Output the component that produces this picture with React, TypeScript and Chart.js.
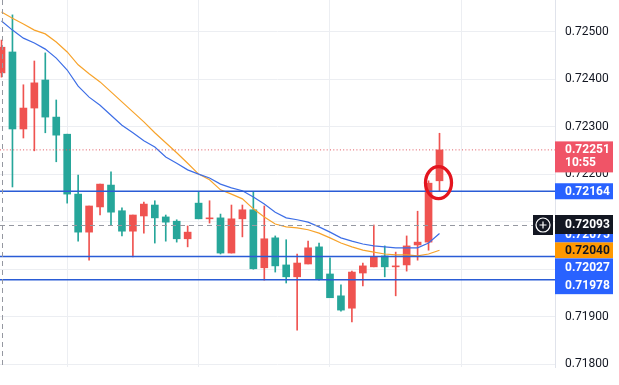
import React, { useEffect, useRef } from "react";
import { Chart, registerables } from "chart.js";

Chart.register(...registerables);

// ---- data ----
const opens = [0.72413, 0.72457, 0.72295, 0.72339, 0.72398, 0.7232, 0.72284, 0.72158, 0.72078, 0.72131, 0.72177, 0.72123, 0.7208, 0.72112, 0.72135, 0.7211, 0.72101, 0.72064, 0.72139, 0.72106, 0.72108, 0.72034, 0.72106, 0.72125, 0.72003, 0.72066, 0.72009, 0.71984, 0.72011, 0.72047, 0.7199, 0.71944, 0.71918, 0.71992, 0.72005, 0.72028, 0.72005, 0.72009, 0.72051, 0.72057, 0.72186];
const highs = [0.72482, 0.72535, 0.72388, 0.72438, 0.72455, 0.72356, 0.72284, 0.72198, 0.72133, 0.72179, 0.72205, 0.72129, 0.72114, 0.72141, 0.72144, 0.72114, 0.72104, 0.72091, 0.72162, 0.72144, 0.72116, 0.72135, 0.72135, 0.72162, 0.72133, 0.7207, 0.72062, 0.72032, 0.72059, 0.72055, 0.72024, 0.71967, 0.71996, 0.72013, 0.72093, 0.72049, 0.72036, 0.7207, 0.72122, 0.72186, 0.72286];
const lows = [0.72404, 0.72173, 0.72276, 0.72249, 0.72287, 0.72226, 0.72139, 0.72059, 0.72019, 0.72114, 0.72093, 0.7207, 0.72026, 0.72076, 0.72055, 0.72059, 0.72057, 0.72047, 0.72106, 0.72097, 0.72032, 0.72034, 0.72068, 0.72, 0.71977, 0.71994, 0.71971, 0.71872, 0.72011, 0.71977, 0.7194, 0.71912, 0.71889, 0.71965, 0.72005, 0.71984, 0.71944, 0.71996, 0.72019, 0.7204, 0.72165];
const closes = [0.72467, 0.72295, 0.72339, 0.72392, 0.7232, 0.72282, 0.72158, 0.72078, 0.72133, 0.72179, 0.7212, 0.7208, 0.72114, 0.72137, 0.72108, 0.72099, 0.72064, 0.72078, 0.72106, 0.72108, 0.72034, 0.72106, 0.72125, 0.72001, 0.72064, 0.72007, 0.71984, 0.72013, 0.72045, 0.71979, 0.7194, 0.71914, 0.71994, 0.72007, 0.72026, 0.72005, 0.72007, 0.72049, 0.72057, 0.72181, 0.72251];
const blueMA = [0.72522, 0.72503, 0.72486, 0.72476, 0.72463, 0.72444, 0.72419, 0.72385, 0.72362, 0.72345, 0.72324, 0.72303, 0.72287, 0.7227, 0.72257, 0.72236, 0.72223, 0.72209, 0.722, 0.72192, 0.72179, 0.72171, 0.72165, 0.72152, 0.72137, 0.7212, 0.72108, 0.72104, 0.72099, 0.72089, 0.72078, 0.72066, 0.72059, 0.72053, 0.72049, 0.72047, 0.72045, 0.72045, 0.72045, 0.72055, 0.72075];
const orangeMA = [0.72541, 0.72528, 0.72516, 0.72503, 0.72495, 0.72478, 0.72457, 0.7243, 0.72411, 0.72394, 0.72373, 0.72352, 0.72331, 0.7231, 0.72287, 0.72266, 0.72245, 0.72223, 0.722, 0.72188, 0.72167, 0.72158, 0.72148, 0.72127, 0.7211, 0.72095, 0.72089, 0.72087, 0.72083, 0.72076, 0.72066, 0.72055, 0.72047, 0.7204, 0.72036, 0.72032, 0.7203, 0.7203, 0.72028, 0.72032, 0.7204];
const levels = [0.72164, 0.72027, 0.71978];
const lastPrice = 0.72251;
const lastTime = "10:55";
const crosshairPrice = 0.72093;
const crosshairIndex = 0;
const markIndex = 40;
const markPrice = 0.72182;
const yTicks = [0.718, 0.719, 0.72, 0.721, 0.722, 0.723, 0.724, 0.725];
const xGridTicks = [6, 18, 30, 42];

const X_MIN = -0.137;
const X_MAX = 50.548;
const Y_MIN = 0.717943;
const Y_MAX = 0.725663;

const GREEN = "#26a69a";
const RED = "#ef5350";
const BLUE_LINE = "#2a5cd6";
const BLUE_BOX = "#2962ff";
const FONT = "Roboto";

type Lbl = { value: number; bg: string; fg: string; text: string; sub?: string; offset: number; up: number; down: number };
const axisLabels: Lbl[] = [
  { value: blueMA[blueMA.length - 1], bg: BLUE_BOX, fg: "#ffffff", text: blueMA[blueMA.length - 1].toFixed(5), offset: 1, up: 8, down: 8 },
  { value: lastPrice, bg: "#f05467", fg: "#ffffff", text: lastPrice.toFixed(5), sub: lastTime, offset: 0, up: 8.5, down: 22.5 },
  { value: levels[0], bg: BLUE_BOX, fg: "#ffffff", text: levels[0].toFixed(5), offset: 0, up: 8, down: 8 },
  { value: crosshairPrice, bg: "#131722", fg: "#ffffff", text: crosshairPrice.toFixed(5), offset: -1, up: 9, down: 10 },
  { value: orangeMA[orangeMA.length - 1], bg: "#ff9800", fg: "#131722", text: orangeMA[orangeMA.length - 1].toFixed(5), offset: 0, up: 7.8, down: 8 },
  { value: levels[1], bg: BLUE_BOX, fg: "#ffffff", text: levels[1].toFixed(5), offset: 11, up: 9, down: 9.2 },
  { value: levels[2], bg: BLUE_BOX, fg: "#ffffff", text: levels[2].toFixed(5), offset: 5.5, up: 9.2, down: 9 },
];

const overlay = {
  id: "overlay",
  afterDatasetsDraw(chart: any) {
    const { ctx, chartArea, scales } = chart;
    const xs = scales.x;
    const ys = scales.y;
    ctx.save();
    ctx.beginPath();
    ctx.rect(chartArea.left, chartArea.top, chartArea.right - chartArea.left, chartArea.bottom - chartArea.top);
    ctx.clip();
    // crosshair
    ctx.strokeStyle = "#9598a1";
    ctx.lineWidth = 1;
    ctx.setLineDash([5, 4]);
    const cx = Math.round(xs.getPixelForValue(crosshairIndex)) + 0.5;
    ctx.beginPath();
    ctx.moveTo(cx, chartArea.top);
    ctx.lineTo(cx, chartArea.bottom);
    ctx.stroke();
    const cy = Math.round(ys.getPixelForValue(crosshairPrice)) + 0.5;
    ctx.beginPath();
    ctx.moveTo(chartArea.left, cy);
    ctx.lineTo(chartArea.right - 22, cy);
    ctx.stroke();
    ctx.setLineDash([]);
    // red ellipse mark
    const ex = xs.getPixelForValue(markIndex) - 1;
    const ey = ys.getPixelForValue(markPrice);
    ctx.strokeStyle = "#e3151f";
    ctx.lineWidth = 3.3;
    ctx.beginPath();
    ctx.ellipse(ex, ey, 13, 16, 0, 0, Math.PI * 2);
    ctx.stroke();
    ctx.restore();
  },
  afterDraw(chart: any) {
    const { ctx, chartArea, scales } = chart;
    const ys = scales.y;
    const left = chartArea.right;
    const w = 58;
    ctx.save();
    ctx.textBaseline = "middle";
    ctx.textAlign = "left";
    for (const l of axisLabels) {
      const y = ys.getPixelForValue(l.value) + l.offset;
      ctx.fillStyle = l.bg;
      ctx.fillRect(left, y - l.up, w, l.up + l.down);
      ctx.fillStyle = l.fg;
      ctx.font = `bold 12px ${FONT}`;
      ctx.fillText(l.text, left + 10, y + 0.5);
      if (l.sub) {
        ctx.fillText(l.sub, left + 10, y + 13);
      }
    }
    // crosshair "+" button
    const cy = ys.getPixelForValue(crosshairPrice);
    const bx = left - 22;
    ctx.fillStyle = "#131722";
    ctx.fillRect(bx, cy - 10, 20, 20);
    ctx.strokeStyle = "#ffffff";
    ctx.lineWidth = 1.2;
    ctx.beginPath();
    ctx.arc(bx + 10, cy, 7, 0, Math.PI * 2);
    ctx.stroke();
    ctx.beginPath();
    ctx.moveTo(bx + 6.5, cy);
    ctx.lineTo(bx + 13.5, cy);
    ctx.moveTo(bx + 10, cy - 3.5);
    ctx.lineTo(bx + 10, cy + 3.5);
    ctx.stroke();
    ctx.restore();
  },
};

export default function App() {
  const ref = useRef<HTMLCanvasElement | null>(null);
  useEffect(() => {
    if (!ref.current) return;
    const idx = opens.map((_, i) => i);
    const colors = idx.map((i) => (closes[i] > opens[i] ? RED : GREEN));
    const hline = (v: number, color: string, width: number, dash: number[] = []) => ({
      type: "line" as const,
      data: [
        { x: X_MIN, y: v },
        { x: X_MAX, y: v },
      ],
      borderColor: color,
      borderWidth: width,
      borderDash: dash,
      pointRadius: 0,
      order: 0,
    });
    const chart = new Chart(ref.current, {
      type: "bar",
      data: {
        datasets: [
          hline(levels[0], BLUE_LINE, 1.5),
          hline(levels[1], BLUE_LINE, 1.5),
          hline(levels[2], BLUE_LINE, 1.5),
          hline(lastPrice, "#e0565f", 1, [1, 2.3]),
          {
            type: "line",
            data: idx.map((i) => ({ x: i, y: blueMA[i] })),
            borderColor: "#3d6ee6",
            borderWidth: 1.2,
            pointRadius: 0,
            order: 1,
          },
          {
            type: "line",
            data: idx.map((i) => ({ x: i, y: orangeMA[i] })),
            borderColor: "#f7a32b",
            borderWidth: 1.2,
            pointRadius: 0,
            order: 2,
          },
          {
            type: "bar",
            data: idx.map((i) => ({ x: i, y: [opens[i], closes[i]] })) as any,
            backgroundColor: colors,
            barThickness: 7,
            grouped: false,
            borderWidth: 0,
            borderSkipped: false,
            order: 3,
          },
          {
            type: "bar",
            data: idx.map((i) => ({ x: i, y: [lows[i], highs[i]] })) as any,
            backgroundColor: colors,
            barThickness: 1,
            grouped: false,
            borderWidth: 0,
            borderSkipped: false,
            order: 4,
          },
        ] as any,
      },
      options: {
        responsive: false,
        animation: false,
        layout: { padding: { left: 0, right: 0, top: 0, bottom: 18 } },
        plugins: { legend: { display: false }, tooltip: { enabled: false } },
        events: [],
        scales: {
          x: {
            type: "linear",
            min: X_MIN,
            max: X_MAX,
            offset: false,
            ticks: { display: false },
            grid: { color: "#eceef2", drawTicks: false, offset: false },
            border: { display: false },
            afterBuildTicks: (s: any) => {
              s.ticks = xGridTicks.map((v) => ({ value: v }));
            },
            afterFit: (s: any) => {
              s.height = 0;
              s.paddingLeft = 0;
              s.paddingRight = 0;
            },
          },
          y: {
            type: "linear",
            position: "right",
            min: Y_MIN,
            max: Y_MAX,
            grid: { color: "#eceef2", drawTicks: false },
            border: { color: "#e0e3eb" },
            ticks: {
              padding: 10,
              color: "#131722",
              font: { family: FONT, size: 12 },
              callback: (v: any) => Number(v).toFixed(5),
            },
            afterBuildTicks: (s: any) => {
              s.ticks = yTicks.map((v) => ({ value: v }));
            },
            afterFit: (s: any) => {
              s.width = 64;
              s.paddingTop = 0;
              s.paddingBottom = 0;
            },
          },
        },
      } as any,
      plugins: [overlay],
    });
    return () => chart.destroy();
  }, []);
  return (
    <div style={{ position: "fixed", left: 0, top: 0, width: 619, height: 385, background: "#ffffff" }}>
      <canvas ref={ref} width={619} height={385} style={{ display: "block" }} />
    </div>
  );
}
